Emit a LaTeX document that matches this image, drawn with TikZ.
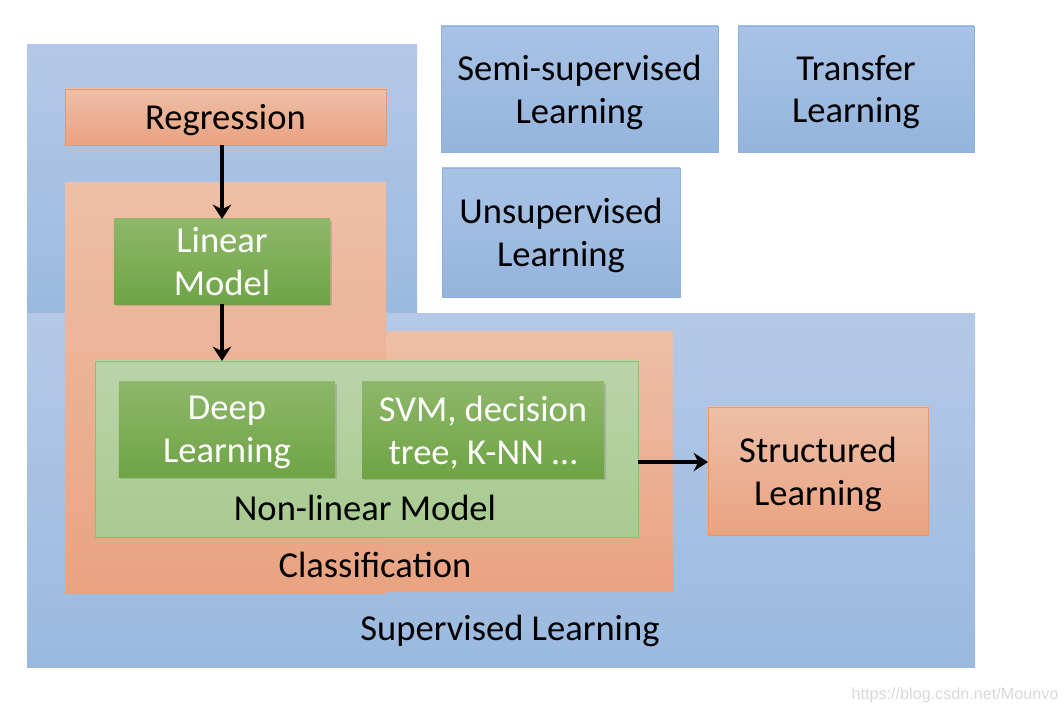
\documentclass[tikz,border=0pt]{standalone}
\usepackage{fontspec}
\setmainfont{Carlito}
\newfontfamily\markfont{Liberation Sans}
\usetikzlibrary{arrows.meta,shadows}
\definecolor{bluetop}{HTML}{B4C9E7}
\definecolor{bluebot}{HTML}{9BB9DF}
\definecolor{oratop}{HTML}{EEBFA7}
\definecolor{orabot}{HTML}{E9A381}
\definecolor{oraline}{HTML}{E49A6E}
\definecolor{grntop}{HTML}{8EB76A}
\definecolor{grnbot}{HTML}{6FA445}
\definecolor{lgrtop}{HTML}{BAD4AA}
\definecolor{lgrbot}{HTML}{A8CA8F}
\definecolor{lgrline}{HTML}{8CC06A}
\definecolor{bbxtop}{HTML}{A9C3E6}
\definecolor{bbxbot}{HTML}{95B4DC}
\definecolor{bbxline}{HTML}{8DB0DD}
\begin{document}
\begin{tikzpicture}[x=0.25mm, y=-0.25mm,
    >={Stealth[length=3.6mm, width=4.6mm]},
    every node/.style={font=\fontsize{26}{30.5}\selectfont, inner sep=0pt, outer sep=0pt},
    supbg/.style={top color=bluetop, bottom color=bluebot},
    clsbg/.style={top color=oratop, bottom color=orabot},
    orabox/.style={draw=oraline, line width=0.6pt, top color=oratop, bottom color=orabot,
                   align=center, text=black, text depth=0pt},
    grnbox/.style={top color=grntop, bottom color=grnbot, text=white, align=center,
                   text depth=0pt,
                   drop shadow={shadow xshift=0.6mm, shadow yshift=-0.6mm, opacity=0.35}},
    nlbox/.style={draw=lgrline, line width=0.6pt, top color=lgrtop, bottom color=lgrbot},
    bluebox/.style={draw=bbxline, line width=0.6pt, top color=bbxtop, bottom color=bbxbot,
                    align=center, text=black, text depth=0pt},
    flow/.style={->, line width=1mm, draw=black}]

  \useasboundingbox (0,0) rectangle (1064,722);

  % ---- supervised learning: two blue blocks
  \shade[supbg] (27,45) rectangle (417,314);
  \shade[supbg] (27,314) rectangle (975,667);
  \node (sup) at (510,631) {Supervised Learning};

  % ---- classification: two orange blocks
  \shade[clsbg] (65,183) rectangle (386,593);
  \shade[clsbg] (386,332) rectangle (673,591);
  \node (cls) at (375,565) {Classification};

  % ---- the other kinds of learning
  \node[bluebox, minimum width=69.25mm, minimum height=31.5mm] (semi) at (579.5,89)
    {Semi-supervised\\Learning};
  \node[bluebox, minimum width=59mm, minimum height=31.5mm] (trans) at (856,89)
    {Transfer\\Learning};
  \node[bluebox, minimum width=59.5mm, minimum height=32.25mm] (unsup) at (561,232.5)
    {Unsupervised\\Learning};

  % ---- regression and the models
  \node[orabox, minimum width=80.25mm, minimum height=14mm] (reg) at (225.5,117)
    {Regression};
  \node[grnbox, minimum width=54mm, minimum height=21.25mm] (lin) at (222,261.5)
    {Linear\\Model};
  \node[nlbox, minimum width=135.75mm, minimum height=44mm] (nonlin) at (366.5,449) {};
  \node (nllabel) at (365,508) {Non-linear Model};
  \node[grnbox, minimum width=54mm, minimum height=23.75mm] (deep) at (227,429.5)
    {Deep\\Learning};
  \node[grnbox, minimum width=60.5mm, minimum height=24mm] (svm) at (483,430)
    {SVM, decision\\tree, K-NN …};
  \node[orabox, minimum width=55mm, minimum height=32mm] (struct) at (818,471)
    {Structured\\Learning};

  \draw[flow] (lin.north |- reg.south) -- (lin.north);
  \draw[flow] (lin.south) -- (lin.south |- nonlin.north);
  \draw[flow] (nonlin.east |- 0,462) -- (struct.west |- 0,462);

  \node[font=\markfont\fontsize{11.5}{13}\selectfont, text=black!15] (mark) at (955,695)
    {https://blog.csdn.net/Mounvo};
\end{tikzpicture}
\end{document}
